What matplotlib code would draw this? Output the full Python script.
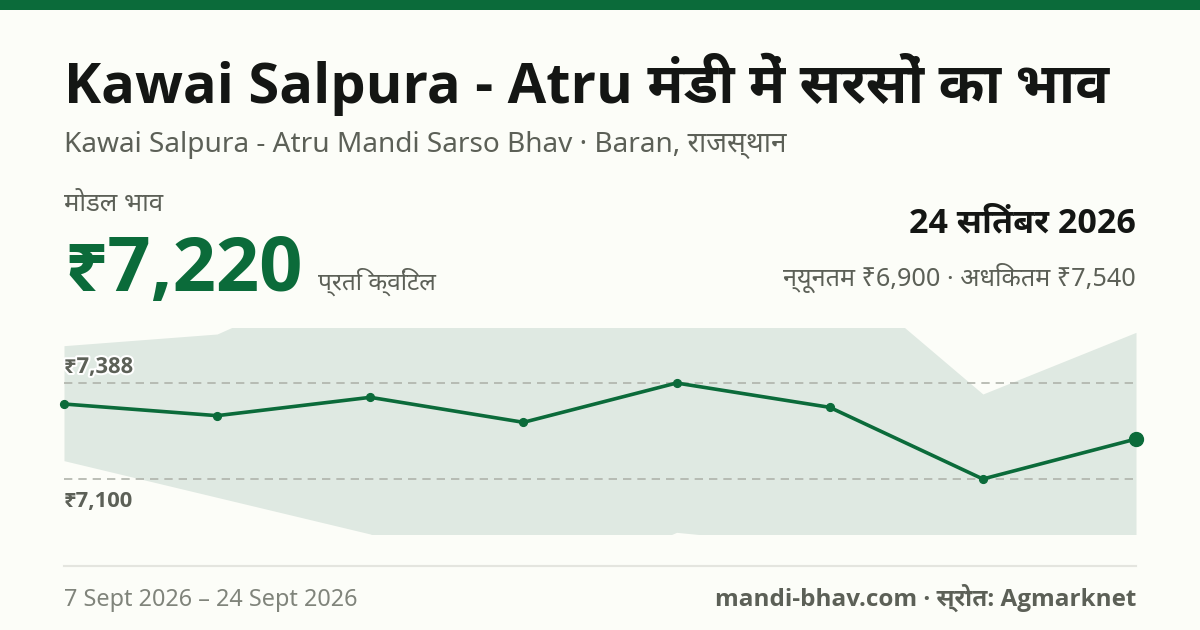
import matplotlib
matplotlib.use('Agg')
import matplotlib.pyplot as plt
import matplotlib.patheffects as pe

# daily prices, rupee per quintal
dates = ['7 Sept', '9 Sept', '12 Sept', '14 Sept', '16 Sept', '19 Sept', '22 Sept', '24 Sept']
modal = [7325, 7290, 7345, 7270, 7388, 7315, 7100, 7220]
low = [7155, 7045, 6935, 6740, 6940, 6895, 6900, 6900]
high = [7500, 7535, 7740, 7760, 7780, 7745, 7355, 7540]
ref_lines = [7388, 7100]
ref_labels = ['₹7,388', '₹7,100']

title = 'Kawai Salpura - Atru मंडी में सरसों का भाव'
subtitle = 'Kawai Salpura - Atru Mandi Sarso Bhav · Baran, राजस्थान'
price_label = 'मोडल भाव'
price = '₹7,220'
unit = 'प्रति क्विंटल'
date_text = '24 सितंबर 2026'
range_text = 'न्यूनतम ₹6,900 · अधिकतम ₹7,540'
period = '7 Sept 2026 – 24 Sept 2026'
source = 'mandi-bhav.com · स्रोत: Agmarknet'

GREEN = '#0b6b3a'
BG = '#fcfdf8'
INK = '#141614'
GREY = '#5c6057'
LIGHT = '#80847b'
REGULAR = ['Noto Sans', 'Noto Sans Devanagari', 'DejaVu Sans']
# the Noto Sans here has no separate bold face
BOLD = ['Open Sans', 'Noto Sans Devanagari UI', 'DejaVu Sans']


def put(x, y, s, px, color, bold=False, ha='left'):
    # x, y are picture pixels, y is the text baseline from the top
    return fig.text(x / 1200, 1 - y / 630, s, fontsize=px * 0.72, color=color,
                    family=BOLD if bold else REGULAR,
                    weight='bold' if bold else 'normal', ha=ha, va='baseline')


fig = plt.figure(figsize=(12, 6.3), dpi=100, facecolor=BG)

# top bar and footer rule
fig.add_artist(plt.Rectangle((0, 1 - 10 / 630), 1, 10 / 630, color=GREEN, lw=0))
fig.add_artist(plt.Line2D([64 / 1200, 1136 / 1200], [1 - 566 / 630] * 2, color='#e4e5df', lw=1.5))

ax = fig.add_axes([64 / 1200, 1 - 534 / 630, 1072 / 1200, 206 / 630])
ax.set_facecolor('none')
xs = list(range(len(dates)))
ax.fill_between(xs, low, high, color='#dfe9e2', lw=0)
for v in ref_lines:
    ax.axhline(v, color='#b0b3ab', lw=1.2, dashes=(5, 3.6))
ax.plot(xs, modal, color=GREEN, lw=2.6, marker='o', ms=5.6, clip_on=False, zorder=3)
ax.plot(xs[-1], modal[-1], 'o', color=GREEN, ms=10, clip_on=False, zorder=4)
ax.set_xlim(0, len(dates) - 1)
ax.set_ylim(6935, 7553)
ax.axis('off')

halo = [pe.withStroke(linewidth=3, foreground='white')]
put(64, 373, ref_labels[0], 22, GREY, True).set_path_effects(halo)
put(64, 507, ref_labels[1], 22, GREY, True)

put(64, 103, title, 56, INK, True)
put(64, 152, subtitle, 28, GREY)
put(64, 211, price_label, 25.8, GREY)
put(64, 291, price, 76, GREEN, True)
put(318, 290, unit, 24.5, GREY)
put(1136, 232, date_text, 34, INK, True, ha='right')
put(1136, 286, range_text, 25.2, GREY, ha='right')
put(64, 606, period, 23.4, LIGHT)
put(1136, 606, source, 24.2, GREY, True, ha='right')

fig.savefig('out.png', dpi=100, facecolor=BG)
